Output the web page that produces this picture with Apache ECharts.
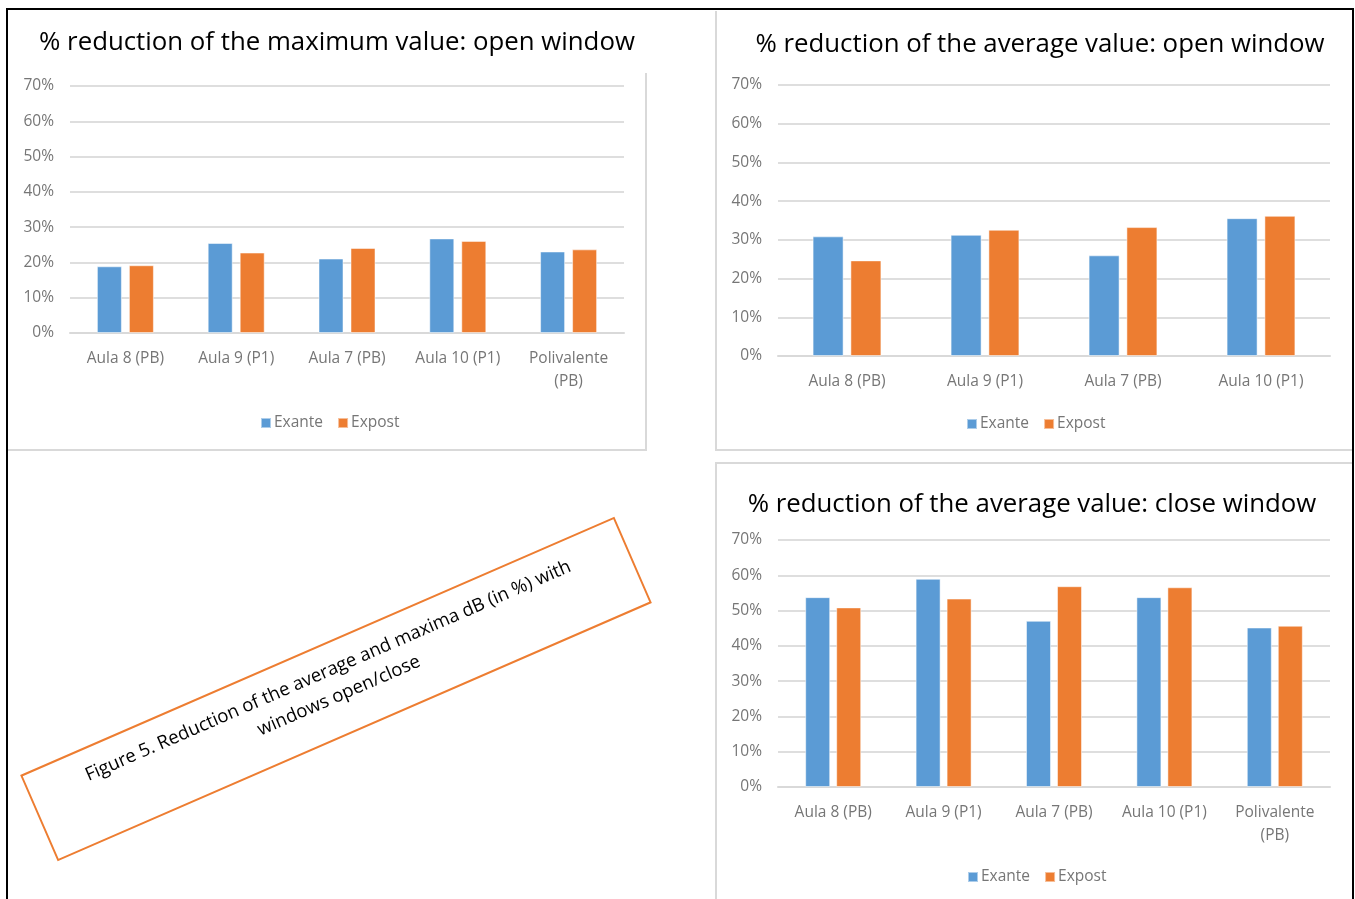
<!DOCTYPE html>
<html>

<head>
    <meta charset="utf-8" />
    <style>
        html, body {
            margin: 0;
            padding: 0;
            background: #fff;
        }
        #chart {
            width: 1355px;
            height: 899px;
        }
    </style>
    <script src="https://cdn.jsdelivr.net/npm/echarts@6/dist/echarts.min.js"></script>
</head>

<body>
    <div id="chart"></div>
    <script type="text/javascript">
        // categories
        var rooms5 = ['Aula 8 (PB)', 'Aula 9 (P1)', 'Aula 7 (PB)', 'Aula 10 (P1)', 'Polivalente (PB)'];
        var rooms4 = ['Aula 8 (PB)', 'Aula 9 (P1)', 'Aula 7 (PB)', 'Aula 10 (P1)'];

        // % reduction of the maximum value: open window
        var maxOpenExante = [18.9, 25.5, 21.1, 26.8, 23.1];
        var maxOpenExpost = [19.2, 22.8, 24.1, 26.1, 23.7];

        // % reduction of the average value: open window
        var avgOpenExante = [30.9, 31.3, 26.0, 35.6];
        var avgOpenExpost = [24.7, 32.6, 33.3, 36.2];

        // % reduction of the average value: close window
        var avgCloseExante = [53.8, 59.0, 47.1, 53.8, 45.2];
        var avgCloseExpost = [50.9, 53.4, 56.9, 56.6, 45.7];

        var yTicks = [0, 10, 20, 30, 40, 50, 60, 70];

        var titles = [
            '% reduction of the maximum value: open window',
            '% reduction of the average value: open window',
            '% reduction of the average value: close window'
        ];
        var caption = 'Figure 5. Reduction of the average and maxima dB (in %) with\nwindows open/close';

        var BLUE = '#5B9BD5', ORANGE = '#ED7D31';
        var FONT = 'Open Sans';

        var chart = echarts.init(document.getElementById('chart'));

        function xAxis(idx, cats) {
            return {
                type: 'category',
                gridIndex: idx,
                data: cats,
                axisLine: { lineStyle: { color: '#d9d9d9', width: 2 } },
                axisTick: { show: false },
                axisLabel: {
                    interval: 0,
                    color: '#767676',
                    fontFamily: FONT,
                    fontSize: 15.5,
                    margin: 14,
                    lineHeight: 23,
                    formatter: function (v) { return v.replace('Polivalente ', 'Polivalente\n'); }
                }
            };
        }

        function yAxis(idx) {
            return {
                type: 'value',
                gridIndex: idx,
                min: yTicks[0],
                max: yTicks[yTicks.length - 1],
                interval: 10,
                axisLine: { show: false },
                axisTick: { show: false },
                splitLine: { lineStyle: { color: '#dedede', width: 2 } },
                axisLabel: {
                    color: '#767676',
                    fontFamily: FONT,
                    fontSize: 15.5,
                    margin: 16,
                    formatter: '{value}%'
                }
            };
        }

        function bar(name, idx, data, color, width, gap) {
            return {
                name: name,
                type: 'bar',
                xAxisIndex: idx,
                yAxisIndex: idx,
                data: data,
                barWidth: width,
                barGap: gap,
                itemStyle: { color: color, borderColor: 'rgba(255,255,255,0.5)', borderWidth: 1 },
                silent: true
            };
        }

        function legend(left, top) {
            return {
                data: ['Exante', 'Expost'],
                left: left,
                top: top,
                icon: 'rect',
                itemWidth: 10,
                itemHeight: 10,
                itemGap: 14,
                textStyle: { color: '#767676', fontFamily: FONT, fontSize: 15.5, padding: [0, 0, 0, -2] }
            };
        }

        function title(text, x, y) {
            return {
                text: text,
                left: x,
                top: y,
                textAlign: 'center',
                textStyle: { color: '#000', fontFamily: FONT, fontWeight: 'normal', fontSize: 25.8 }
            };
        }

        var option = {
            backgroundColor: '#fff',
            animation: false,
            title: [
                title(titles[0], 332, 25),
                title(titles[1], 1035, 27),
                title(titles[2], 1027, 487)
            ],
            legend: [
                legend(255, 410),
                legend(961, 411),
                legend(962, 864)
            ],
            grid: [
                { left: 70, top: 86, width: 554, height: 247 },
                { left: 778, top: 85, width: 552, height: 271 },
                { left: 778, top: 540, width: 552, height: 247 }
            ],
            xAxis: [xAxis(0, rooms5), xAxis(1, rooms4), xAxis(2, rooms5)],
            yAxis: [yAxis(0), yAxis(1), yAxis(2)],
            series: [
                bar('Exante', 0, maxOpenExante, BLUE, 25, '28%'),
                bar('Expost', 0, maxOpenExpost, ORANGE, 25, '28%'),
                bar('Exante', 1, avgOpenExante, BLUE, 31, '22%'),
                bar('Expost', 1, avgOpenExpost, ORANGE, 31, '22%'),
                bar('Exante', 2, avgCloseExante, BLUE, 25, '24%'),
                bar('Expost', 2, avgCloseExpost, ORANGE, 25, '24%')
            ],
            graphic: [
                /* outer black frame */
                { type: 'polyline', silent: true, shape: { points: [[7, 899], [7, 9], [1353, 9], [1353, 899]] },
                  style: { stroke: '#000', lineWidth: 2, fill: null } },
                /* panel borders */
                { type: 'polyline', silent: true, shape: { points: [[8, 450], [646, 450], [646, 73]] },
                  style: { stroke: '#d9d9d9', lineWidth: 2, fill: null } },
                { type: 'polyline', silent: true, shape: { points: [[716, 11], [716, 450], [1352, 450]] },
                  style: { stroke: '#d9d9d9', lineWidth: 2, fill: null } },
                { type: 'polyline', silent: true, shape: { points: [[716, 899], [716, 463], [1352, 463]] },
                  style: { stroke: '#d9d9d9', lineWidth: 2, fill: null } },
                /* rotated caption box */
                {
                    type: 'group',
                    x: 336,
                    y: 689,
                    rotation: 23.5 * Math.PI / 180,
                    children: [
                        { type: 'rect', silent: true, shape: { x: -323, y: -46, width: 646, height: 92 },
                          style: { stroke: '#ED7D31', lineWidth: 2, fill: '#fff' } },
                        { type: 'text', silent: true, x: 0, y: -6,
                          style: { text: caption, fill: '#000', font: '18.5px "Open Sans"', align: 'center',
                                   verticalAlign: 'middle', lineHeight: 27 } }
                    ]
                }
            ]
        };
        chart.setOption(option);
    </script>
</body>

</html>
